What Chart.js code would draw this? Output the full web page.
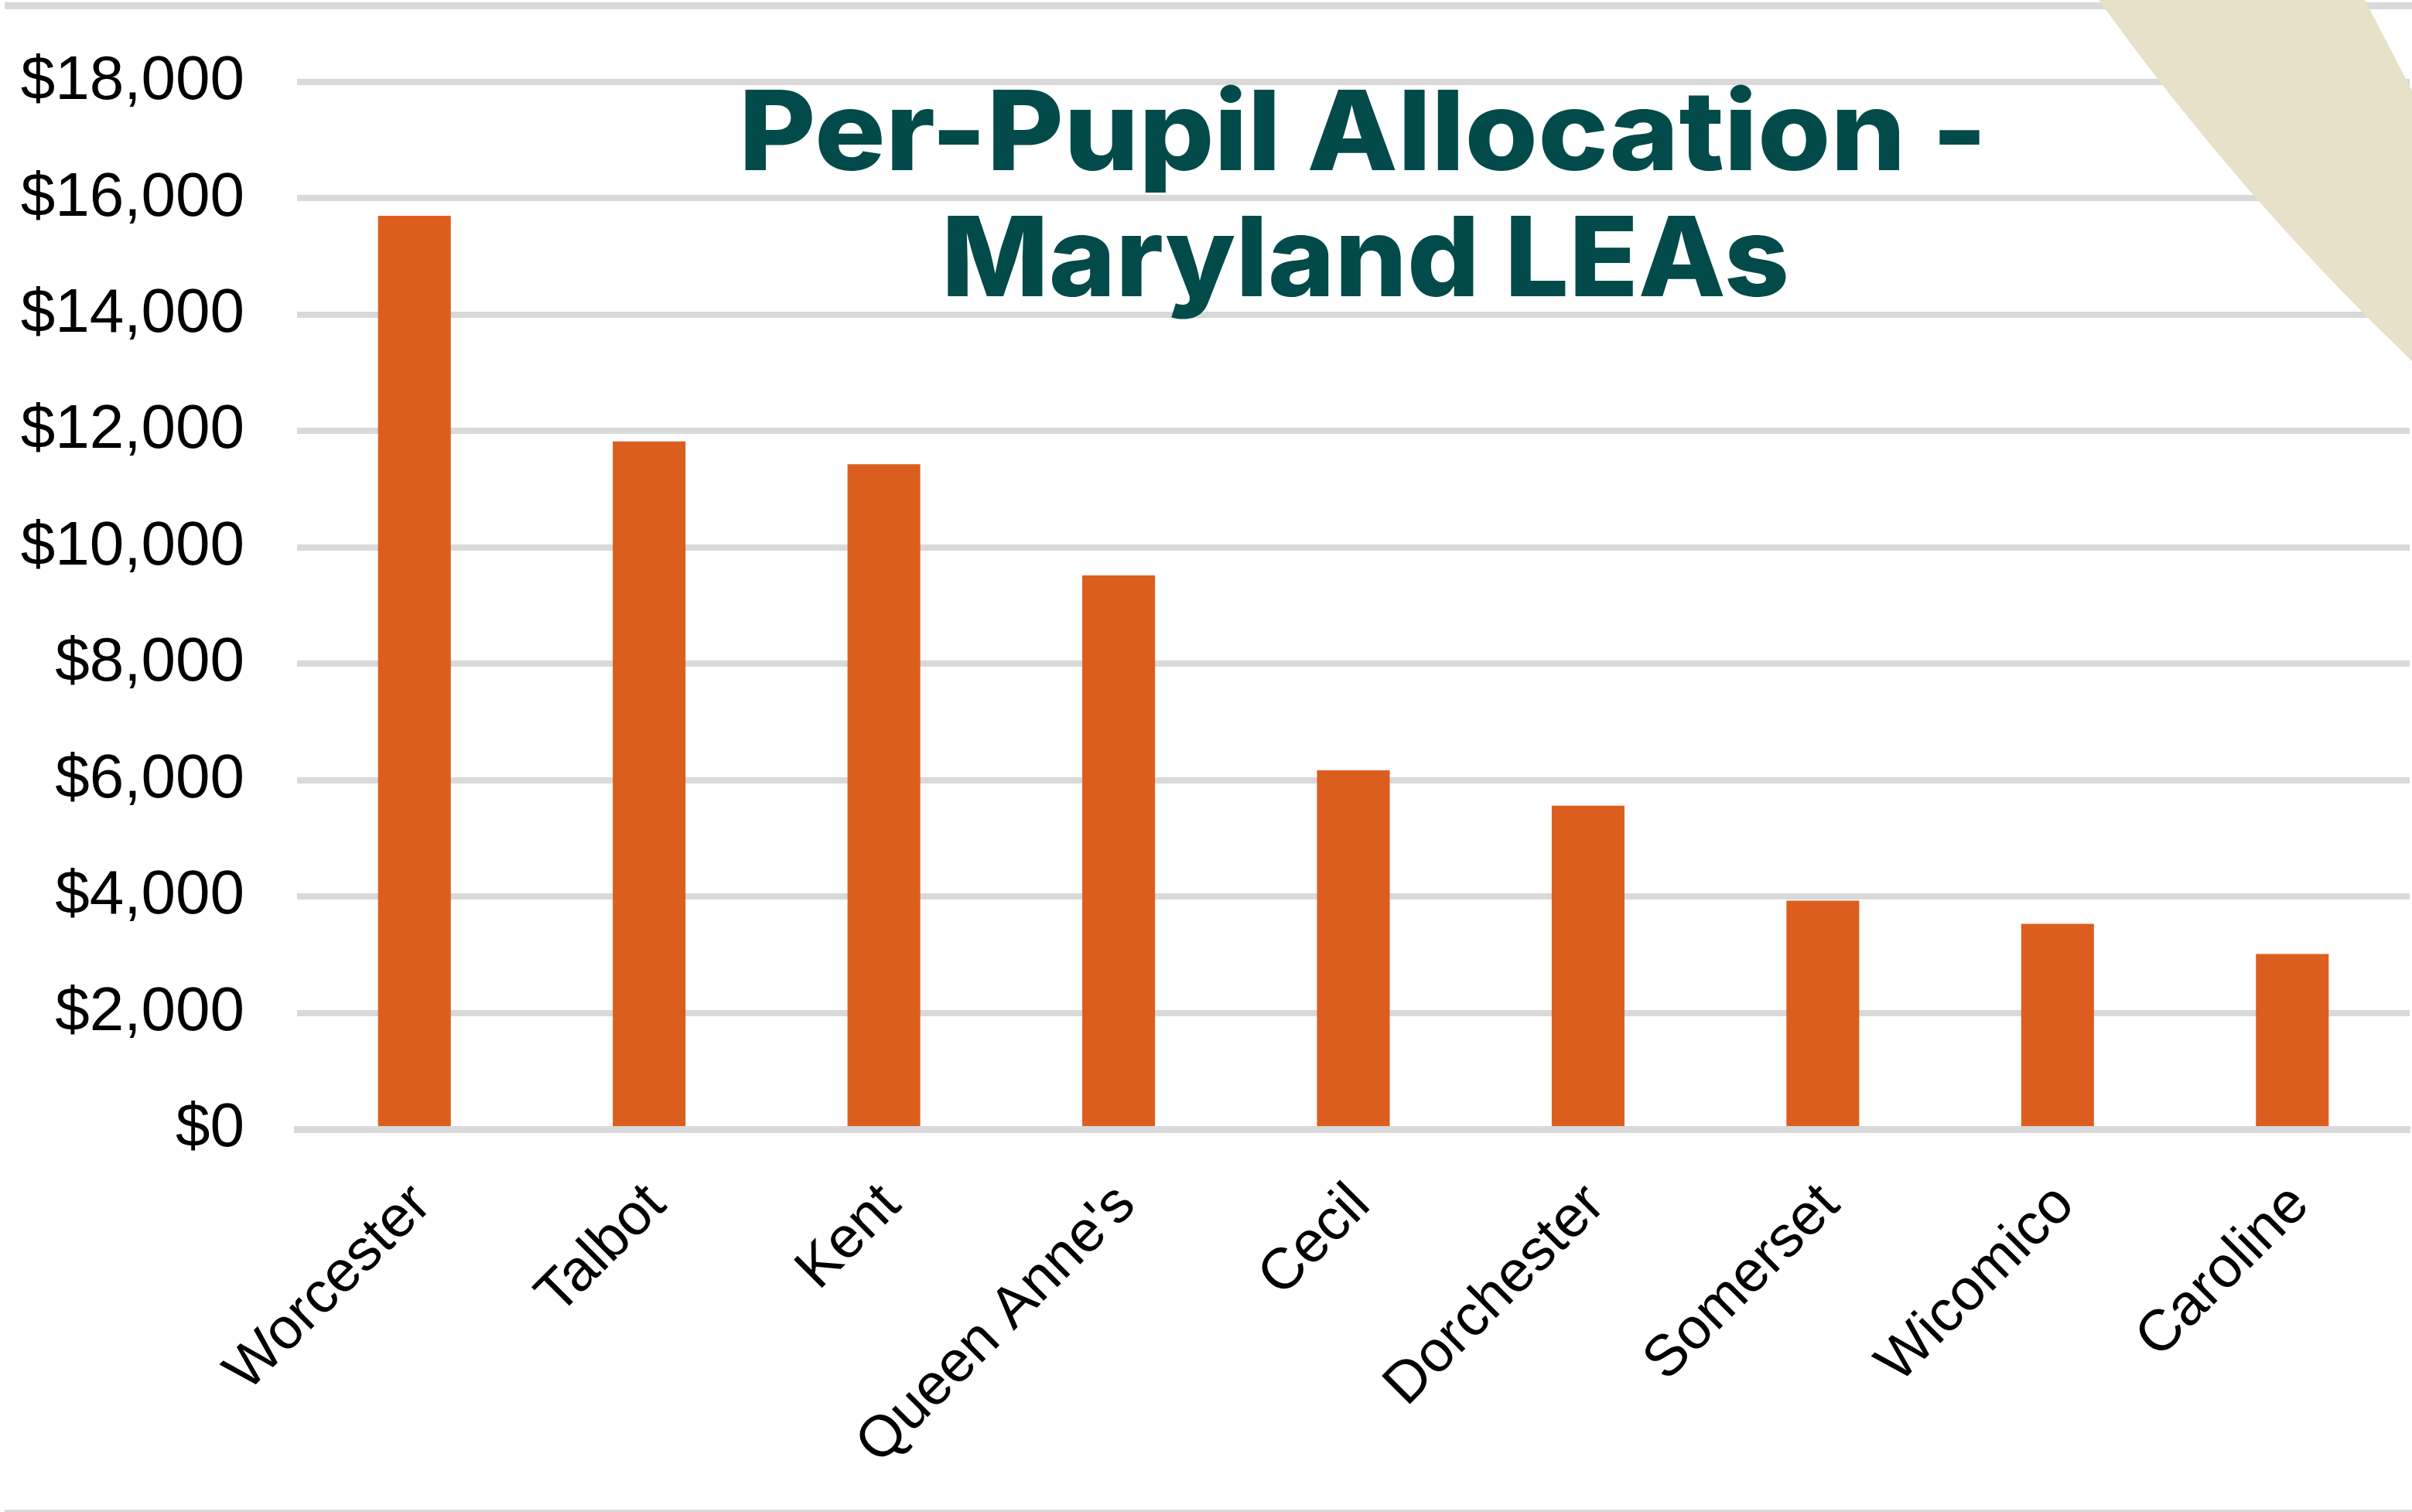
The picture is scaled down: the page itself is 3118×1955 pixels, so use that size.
<!DOCTYPE html>
<html><head><meta charset="utf-8">
<script src="https://cdn.jsdelivr.net/npm/chart.js@4.4.1/dist/chart.umd.min.js"></script>
<style>html,body{margin:0;padding:0;background:#fff;overflow:hidden}canvas{display:block}</style>
</head><body>
<canvas id="c" width="3118" height="1955"></canvas>
<script>
const categories = ["Worcester","Talbot","Kent","Queen Anne's","Cecil","Dorchester","Somerset","Wicomico","Caroline"];
const perPupilAllocation = [15700,11820,11430,9520,6170,5560,3930,3530,3010];
const yTickValues = [0,2000,4000,6000,8000,10000,12000,14000,16000,18000];
const yTickLabels = ["$0","$2,000","$4,000","$6,000","$8,000","$10,000","$12,000","$14,000","$16,000","$18,000"];
const titleLines = ["Per-Pupil Allocation -","Maryland LEAs"];

const yLabelFont = {family:'"Liberation Sans", Arial, sans-serif', size:80};
const xLabelFont = {family:'"Liberation Sans", Arial, sans-serif', size:75};

const decor = {
  id:'decor',
  beforeDraw(chart){
    const ctx = chart.ctx;
    ctx.save();
    ctx.fillStyle = '#ffffff';
    ctx.fillRect(0,0,chart.width,chart.height);
    ctx.fillStyle = '#d9d9d9';
    ctx.fillRect(6,3,chart.width-6,9);
    ctx.fillRect(6,1952,chart.width-6,3);
    ctx.restore();
  },
  afterDraw(chart){
    const ctx = chart.ctx;
    ctx.save();
    ctx.fillStyle = '#e8e1c9';
    ctx.beginPath();
    ctx.moveTo(2713,0);
    ctx.quadraticCurveTo(2894,252,3118,467);
    ctx.lineTo(3118,117);
    ctx.lineTo(3057,0);
    ctx.closePath();
    ctx.fill();
    ctx.fillStyle = '#034b4a';
    ctx.font = '800 143px Inter, "Open Sans", sans-serif';
    ctx.textAlign = 'center';
    ctx.textBaseline = 'alphabetic';
    const targetW = [1614, 1096];
    const baselines = [220, 383];
    const centers = [1762, 1765];
    titleLines.forEach((t,i)=>{
      const w = ctx.measureText(t).width;
      ctx.save();
      ctx.translate(centers[i], baselines[i]);
      ctx.scale(targetW[i] / w, 1);
      ctx.fillText(t,0,0);
      ctx.restore();
    });
    ctx.restore();
  }
};

new Chart(document.getElementById('c'), {
  type:'bar',
  data:{
    labels:categories,
    datasets:[{
      data:perPupilAllocation,
      backgroundColor:'#dc5e1f',
      borderWidth:0,
      barPercentage:0.31,
      categoryPercentage:1
    }]
  },
  options:{
    responsive:false,
    animation:false,
    devicePixelRatio:1,
    layout:{padding:{top:106,right:3,left:0,bottom:0}},
    plugins:{legend:{display:false},tooltip:{enabled:false},title:{display:false}},
    scales:{
      x:{
        grid:{display:false,drawTicks:false},
        border:{display:true,color:'#d9d9d9',width:9,z:1},
        ticks:{autoSkip:false,maxRotation:45,minRotation:45,padding:54,labelOffset:10,color:'#000000',font:xLabelFont},
        afterFit(s){ s.height = 495; }
      },
      y:{
        min:0,max:18000,
        border:{display:false},
        grid:{color:'#d9d9d9',lineWidth:8,drawTicks:false},
        afterBuildTicks(s){ s.ticks = yTickValues.map(v=>({value:v})); },
        ticks:{padding:68,color:'#000000',font:yLabelFont,
          callback:(v)=>yTickLabels[yTickValues.indexOf(v)]},
        afterFit(s){ s.width = 384; s.paddingTop = 0; s.paddingBottom = 0; }
      }
    }
  },
  plugins:[decor]
});
</script>
</body></html>
